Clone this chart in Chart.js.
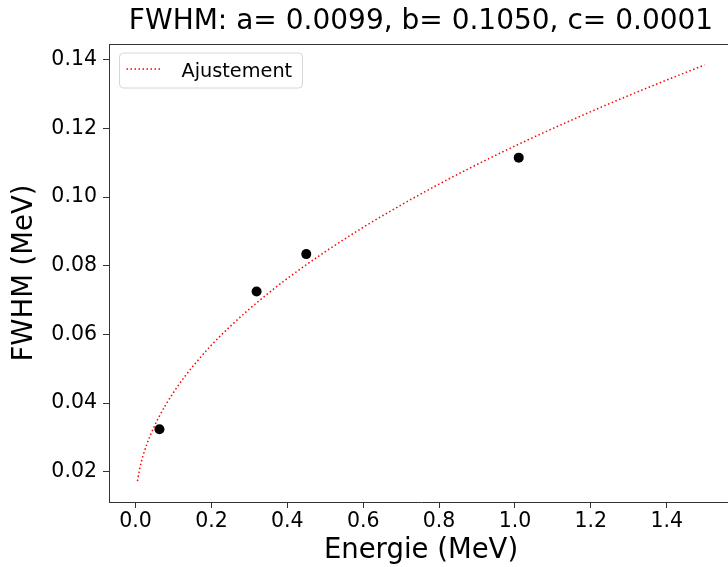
<!DOCTYPE html>
<html>
<head>
<meta charset="utf-8">
<script src="https://cdn.jsdelivr.net/npm/chart.js@4.4.1/dist/chart.umd.min.js"></script>
<style>
  html, body { margin: 0; padding: 0; background: #fff; overflow: hidden; }
  #wrap { width: 728px; height: 567px; overflow: hidden; }
</style>
</head>
<body>
<div id="wrap"><canvas id="fwhmChart" width="738" height="567"></canvas></div>
<script>
// mesures (points noirs)
const energies = [0.063, 0.319, 0.450, 1.010];
const fwhmMeasured = [0.0324, 0.0725, 0.0834, 0.1115];

// courbe d'ajustement
const fitEnergies = [0.005, 0.01, 0.015, 0.02, 0.03, 0.04, 0.05, 0.06, 0.08, 0.10, 0.13, 0.16, 0.20, 0.25, 0.30, 0.35, 0.40, 0.50, 0.60, 0.70, 0.80, 0.90, 1.00, 1.10, 1.20, 1.30, 1.40, 1.50];
const fitFwhm = [0.0173, 0.0204, 0.0228, 0.0248, 0.0281, 0.0309, 0.0334, 0.0356, 0.0396, 0.0431, 0.0478, 0.0519, 0.0569, 0.0624, 0.0674, 0.0720, 0.0763, 0.0841, 0.0912, 0.0977, 0.1038, 0.1095, 0.1149, 0.1200, 0.1249, 0.1296, 0.1341, 0.1385];

const titleText = 'FWHM: a= 0.0099, b= 0.1050, c= 0.0001';
const xLabel = 'Energie (MeV)';
const yLabel = 'FWHM (MeV)';
const fitLabel = 'Ajustement';

const FONT = "'DejaVu Sans', sans-serif";
Chart.defaults.font.family = FONT;
Chart.defaults.color = '#000';

// cadre complet + légende façon matplotlib
const framePlugin = {
    id: 'frame',
    afterDatasetsDraw(chart) {
        const { ctx, chartArea: a } = chart;
        ctx.save();
        ctx.strokeStyle = '#333';
        ctx.lineWidth = 1;
        ctx.beginPath();
        ctx.moveTo(a.left, Math.round(a.top) + 0.5);
        ctx.lineTo(a.right, Math.round(a.top) + 0.5);
        ctx.moveTo(Math.round(a.right) - 0.5, a.top);
        ctx.lineTo(Math.round(a.right) - 0.5, a.bottom);
        ctx.stroke();

        // légende
        const ds = chart.data.datasets[1];
        const bx = a.left + 10.5, by = a.top + 9, bw = 183, bh = 35, r = 4;
        ctx.beginPath();
        ctx.roundRect(bx, by, bw, bh, r);
        ctx.fillStyle = 'rgba(255,255,255,0.8)';
        ctx.fill();
        ctx.strokeStyle = '#d6d6d6';
        ctx.stroke();

        ctx.beginPath();
        ctx.setLineDash(ds.borderDash);
        ctx.lineCap = 'butt';
        ctx.strokeStyle = ds.borderColor;
        ctx.lineWidth = ds.borderWidth;
        ctx.moveTo(bx + 7, by + 16);
        ctx.lineTo(bx + 42, by + 16);
        ctx.stroke();
        ctx.setLineDash([]);

        ctx.fillStyle = '#000';
        ctx.font = "19.3px " + FONT;
        ctx.textBaseline = 'alphabetic';
        ctx.fillText(ds.label, bx + 62, by + 23.5);
        ctx.restore();
    }
};

new Chart(document.getElementById('fwhmChart'), {
    type: 'scatter',
    data: {
        datasets: [{
            label: 'Mesures',
            data: energies.map((e, i) => ({ x: e, y: fwhmMeasured[i] })),
            backgroundColor: '#000',
            borderColor: '#000',
            pointRadius: 5,
            pointBorderWidth: 0,
            order: 0
        }, {
            label: fitLabel,
            data: fitEnergies.map((e, i) => ({ x: e, y: fitFwhm[i] })),
            showLine: true,
            borderColor: 'red',
            borderWidth: 1.5,
            borderDash: [1.5, 2.5],
            borderCapStyle: 'butt',
            cubicInterpolationMode: 'monotone',
            pointRadius: 0,
            fill: false,
            order: 1
        }]
    },
    options: {
        responsive: false,
        animation: false,
        devicePixelRatio: 1,
        layout: { padding: { top: 0, left: 0, right: 3, bottom: 0 } },
        plugins: {
            legend: { display: false },
            tooltip: { enabled: false },
            title: {
                display: true,
                text: titleText,
                fullSize: false,
                color: '#000',
                font: { size: 28, weight: 'normal' },
                padding: { top: 5, bottom: 5.4 }
            }
        },
        scales: {
            x: {
                type: 'linear',
                min: -0.0700,
                max: 1.5748,
                afterFit: s => { s.height = 65; },
                border: { color: '#333', width: 1 },
                grid: { drawOnChartArea: false, drawTicks: true, tickLength: 6, tickColor: '#333' },
                ticks: {
                    stepSize: 0.2,
                    includeBounds: false,
                    padding: 1,
                    font: { size: 20.5 },
                    maxRotation: 0,
                    callback: v => v.toFixed(1)
                },
                title: { display: true, text: xLabel, font: { size: 27.5 }, padding: { top: 0, bottom: 0 } }
            },
            y: {
                type: 'linear',
                min: 0.0112,
                max: 0.1446,
                afterFit: s => { s.width = 109; },
                border: { color: '#333', width: 1 },
                grid: { drawOnChartArea: false, drawTicks: true, tickLength: 6, tickColor: '#333' },
                ticks: {
                    stepSize: 0.02,
                    includeBounds: false,
                    padding: 6,
                    font: { size: 20.5 },
                    callback: v => v.toFixed(2)
                },
                title: { display: true, text: yLabel, font: { size: 27.5 }, padding: { top: 8, bottom: 0 } }
            }
        }
    },
    plugins: [framePlugin]
});
</script>
</body>
</html>
